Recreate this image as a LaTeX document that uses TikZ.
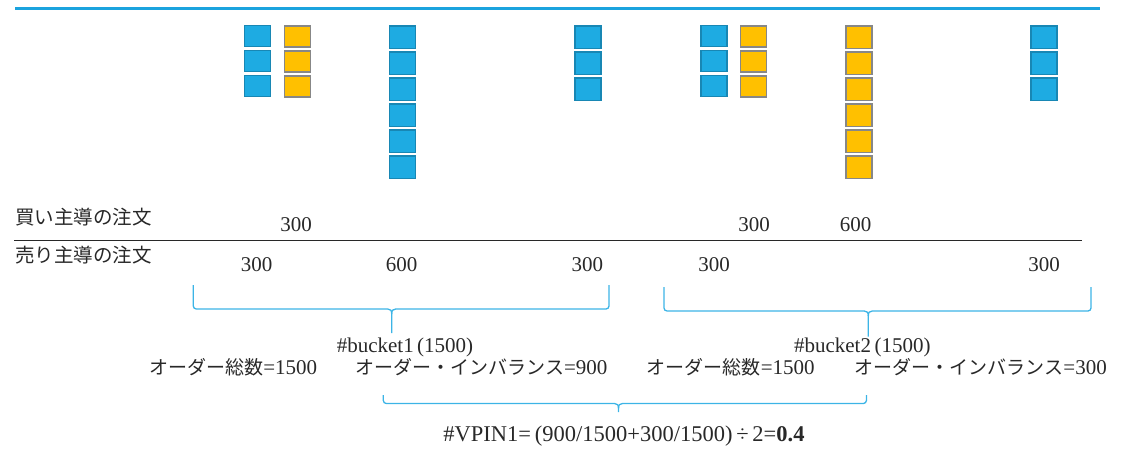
\documentclass[tikz,border=0pt]{standalone}
\usepackage{fontspec}
\setmainfont{Liberation Serif}
\newfontfamily\jp{Noto Sans CJK JP}
\definecolor{sqblue}{RGB}{30,171,226}
\definecolor{sqblueedge}{RGB}{24,135,180}
\definecolor{sqyellow}{RGB}{255,192,0}
\definecolor{sqgray}{RGB}{135,135,135}
\definecolor{linkblue}{RGB}{60,180,230}
\definecolor{topblue}{RGB}{27,163,222}
\definecolor{txt}{RGB}{40,40,40}
\tikzset{
  bluesq/.style={draw=sqblueedge, fill=sqblue, line width=1.2pt, inner sep=0pt},
  yelsq/.style={draw=sqgray, fill=sqyellow, line width=1.4pt, inner sep=0pt},
  lbl/.style={inner sep=0pt, text=txt, font=\fontsize{21}{24}\selectfont},
  jlbl/.style={inner sep=0pt, text=txt, font=\jp\fontsize{19.5}{24}\selectfont},
  bracestyle/.style={draw=linkblue, line width=1.3pt},
}
\newcommand\jt[1]{{\jp\fontsize{19}{24}\selectfont #1}}
\newcommand\mybrace[7]{%
  % #1 name, #2 left x, #3 right x, #4 top y, #5 horizontal y, #6 mid x, #7 tick bottom y
  \coordinate (#1l) at (#2,#4);
  \coordinate (#1r) at (#3,#4);
  \coordinate (#1m) at (#6,#7);
  \draw[bracestyle] (#1l) -- (#2,#5-3) to[out=-90,in=180] (#2+3,#5) -- (#6-4,#5)
     .. controls (#6-1,#5) and (#6,#5+1.5) .. (#6,#5+5) -- (#1m);
  \draw[bracestyle] (#1r) -- (#3,#5-3) to[out=-90,in=0] (#3-3,#5) -- (#6+4,#5)
     .. controls (#6+1,#5) and (#6,#5+1.5) .. (#6,#5+5);
}
\begin{document}
\begin{tikzpicture}[x=1pt,y=-1pt]
\useasboundingbox (0,0) rectangle (1121,449);
% top line
\coordinate (tl) at (15,8.5);
\coordinate (tr) at (1100,8.5);
\draw[topblue, line width=3.2pt] (tl) -- (tr);
% squares: short columns (pitch 25)
\foreach \n/\x/\sty in {a/257.8/bluesq, b/297.7/yelsq, e/713.9/bluesq, f/753.7/yelsq}{
  \foreach \i in {1,2,3}{
    \node[\sty, minimum width=26pt, minimum height=21pt] (\n\i) at (\x, {25.7+10.7+(\i-1)*25}) {};
  }
}
% tall columns (pitch 26)
\foreach \i in {1,...,6}{
  \node[bluesq, minimum width=26pt, minimum height=22.5pt] (c\i) at (402.7, {25.7+11.5+(\i-1)*26}) {};
  \node[yelsq, minimum width=26pt, minimum height=22.5pt] (g\i) at (858.9, {25.7+11.5+(\i-1)*26}) {};
}
\foreach \i in {1,2,3}{
  \node[bluesq, minimum width=26pt, minimum height=22.5pt] (d\i) at (588, {25.7+11.5+(\i-1)*26}) {};
  \node[bluesq, minimum width=26pt, minimum height=22.5pt] (h\i) at (1043.9, {25.7+11.5+(\i-1)*26}) {};
}
% labels rows
\node[jlbl, anchor=base west] (buy) at (15,224.5) {買い主導の注文};
\node[jlbl, anchor=base west] (sell) at (15,262.5) {売り主導の注文};
\coordinate (ml) at (14,240.5);
\coordinate (mr) at (1082,240.5);
\draw[txt, line width=1.4pt] (ml) -- (mr);
\node[lbl, anchor=base] (t1) at (296,231.5) {300};
\node[lbl, anchor=base] (t2) at (754,231.5) {300};
\node[lbl, anchor=base] (t3) at (855.5,231.5) {600};
\node[lbl, anchor=base] (s1) at (256.7,271) {300};
\node[lbl, anchor=base] (s2) at (401.7,271) {600};
\node[lbl, anchor=base] (s3) at (587.3,271) {300};
\node[lbl, anchor=base] (s4) at (714,271) {300};
\node[lbl, anchor=base] (s5) at (1044,271) {300};
% braces
\mybrace{bA}{193.3}{609}{285}{309}{391.7}{333}
\mybrace{bB}{664}{1091}{287}{311}{868.3}{336.5}
\mybrace{bC}{383.3}{866.4}{395}{403.5}{618.5}{412}
% bucket texts
\node[lbl, anchor=base] (bk1) at (405,352.5) {\#bucket1\,(1500)};
\node[lbl, anchor=base] (bk2) at (862.3,352.5) {\#bucket2\,(1500)};
\node[lbl, anchor=base] (tot1) at (233.3,374) {\jt{オーダー総数}=1500};
\node[lbl, anchor=base] (imb1) at (481.5,374) {\jt{オーダー・インバランス}=900};
\node[lbl, anchor=base] (tot2) at (730.8,374) {\jt{オーダー総数}=1500};
\node[lbl, anchor=base] (imb2) at (980.8,374) {\jt{オーダー・インバランス}=300};
\node[lbl, anchor=base, font=\fontsize{22.5}{24}\selectfont] (vpin) at (624,441.7) {\#VPIN1=\,(900/1500+300/1500)\,÷\,2=\textbf{0.4}};
\end{tikzpicture}
\end{document}
